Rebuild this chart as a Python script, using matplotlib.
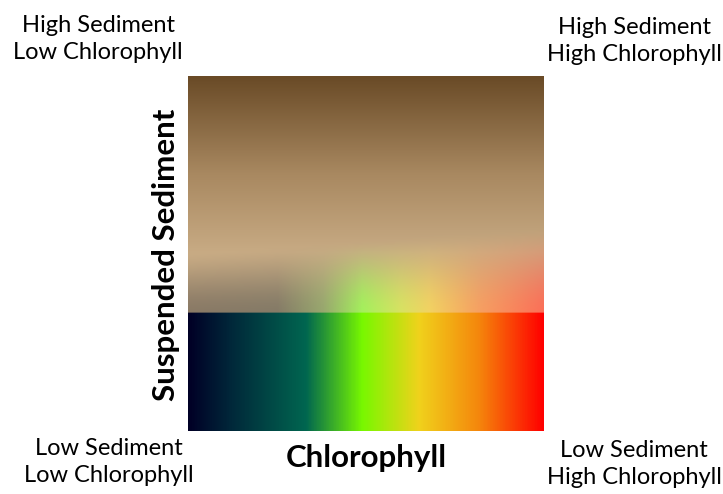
import numpy as np
import matplotlib.pyplot as plt
from matplotlib.colors import LinearSegmentedColormap

# chlorophyll colour stops (low -> high), position along the x axis
chl_pos = [0.0, 0.12, 0.33, 0.49, 0.65, 0.82, 1.0]
chl_colors = ['#000026', '#00283a', '#006650', '#78f800', '#f0d21c', '#f5860c', '#ff0000']

# washed-out chlorophyll colours just above the band
wash_pos = [0.0, 0.25, 0.38, 0.49, 0.6, 0.68, 0.82, 1.0]
wash_colors = ['#8a7a66', '#857b67', '#98a86e', '#a4f05c', '#d8e262', '#f2d262', '#f6a062', '#fb7058']

# sediment colour stops (low -> high) for the upper part of the square
sed_pos = [0.0, 0.45, 1.0]
sed_colors = ['#c8ab84', '#a88860', '#694a26']

band_top = 0.332           # top of the pure chlorophyll band
blend_top = (0.50, 0.57)   # where the chlorophyll tint fades out (left, right)

W, H = 400, 400
x = np.linspace(0, 1, W)
y = np.linspace(0, 1, H)

chl_cmap = LinearSegmentedColormap.from_list('chl', list(zip(chl_pos, chl_colors)))
wash_cmap = LinearSegmentedColormap.from_list('wash', list(zip(wash_pos, wash_colors)))
sed_cmap = LinearSegmentedColormap.from_list('sed', list(zip(sed_pos, sed_colors)))

chl_row = chl_cmap(x)[:, :3]
wash_row = wash_cmap(x)[:, :3]

# background: sediment gradient from the top down to tan
s = np.clip((y - blend_top[0]) / (1 - blend_top[0]), 0, 1)
img = np.repeat(sed_cmap(s)[:, None, :3], W, axis=1)

# chlorophyll tint fading upward above the band
top = blend_top[0] + (blend_top[1] - blend_top[0]) * x
f = np.clip((y[:, None] - band_top) / (top[None, :] - band_top), 0, 1)
w = (1 - f ** 1.6) ** 1.5
w[y <= band_top] = 0
img = (1 - w[..., None]) * img + w[..., None] * wash_row[None, :, :]
img[y <= band_top] = chl_row

fig = plt.figure(figsize=(7.23, 4.94), dpi=100)
ax = fig.add_axes([188 / 723, 63 / 494, 356 / 723, 355 / 494])
ax.imshow(img, origin='lower', extent=[0, 1, 0, 1], aspect='auto', interpolation='bilinear')
ax.set_xticks([])
ax.set_yticks([])
for sp in ax.spines.values():
    sp.set_visible(False)

fam = ['Lato', 'DejaVu Sans']
fig.text(366 / 723, 1 - 458 / 494, 'Chlorophyll', fontsize=22.5, fontweight='bold',
         ha='center', va='center', family=fam)
fig.text(166 / 723, 1 - 255 / 494, 'Suspended Sediment', fontsize=22.5, fontweight='bold',
         ha='center', va='center', rotation=90, family=fam)

corners = [
    (98, 39, 'High Sediment\nLow Chlorophyll'),
    (634, 41, 'High Sediment\nHigh Chlorophyll'),
    (109, 462, 'Low Sediment\nLow Chlorophyll'),
    (634, 464, 'Low Sediment\nHigh Chlorophyll'),
]
for cx, cy, label in corners:
    fig.text(cx / 723, 1 - cy / 494, label, fontsize=17, ha='center', va='center',
             linespacing=1.4, family=fam)

fig.savefig('out.png', dpi=100)
